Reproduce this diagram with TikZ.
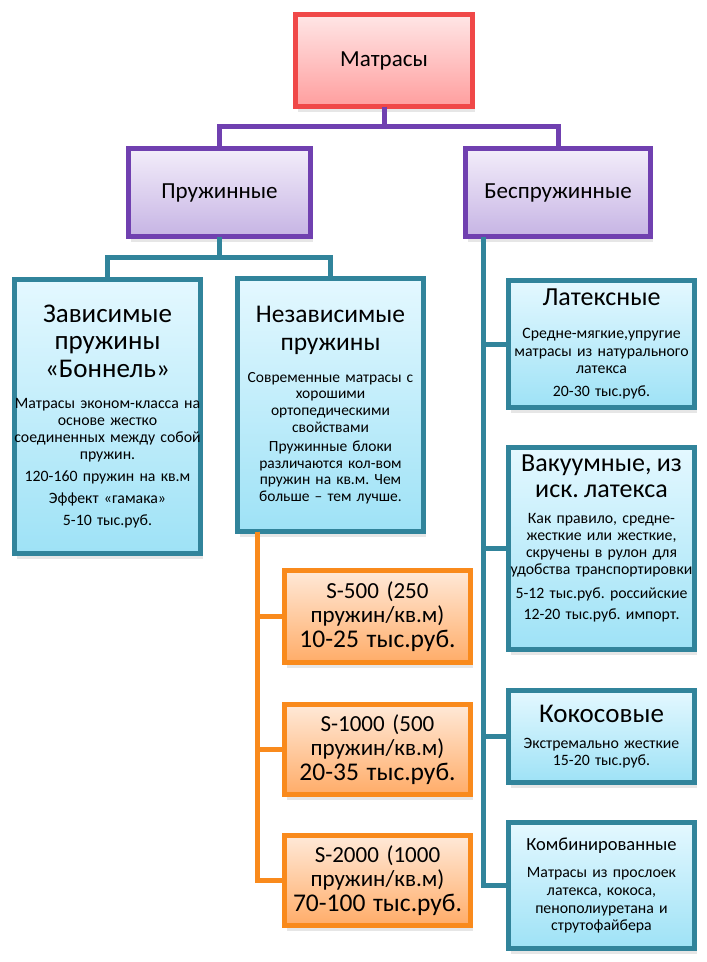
\documentclass[tikz,border=0pt]{standalone}
\usepackage{fontspec}
\setmainfont{Carlito}
\usetikzlibrary{positioning, shadows}
\definecolor{redline}{RGB}{240,72,72}
\definecolor{redtop}{RGB}{255,230,230}
\definecolor{redbot}{RGB}{255,158,158}
\definecolor{purline}{RGB}{112,64,176}
\definecolor{purtop}{RGB}{243,237,250}
\definecolor{purbot}{RGB}{198,180,228}
\definecolor{tealline}{RGB}{49,132,155}
\definecolor{tealtop}{RGB}{228,248,255}
\definecolor{tealbot}{RGB}{158,226,246}
\definecolor{orgline}{RGB}{249,138,28}
\definecolor{orgtop}{RGB}{255,233,216}
\definecolor{orgbot}{RGB}{255,172,104}
\hyphenpenalty=10000
\exhyphenpenalty=10000
\frenchspacing
\newcommand{\pgap}[1][5pt]{\par\vspace{#1}}
% title size, title line spacing, gap below title, text
\newcommand{\boxttl}[4]{{\fontsize{#1}{#2}\selectfont #4\par}\vspace{#3}}

\begin{document}
\begin{tikzpicture}[x=1pt, y=-1pt,
  every node/.style={outer sep=0pt, align=center},
  box/.style={rectangle, line width=5pt, inner ysep=4pt,
              drop shadow={opacity=0.2, shadow xshift=2pt, shadow yshift=-5pt}},
  topbox/.style={box, draw=redline, top color=redtop, bottom color=redbot,
                 minimum width=177pt, minimum height=92pt, font=\fontsize{23}{26}\selectfont},
  grpbox/.style={box, draw=purline, top color=purtop, bottom color=purbot,
                 minimum width=182pt, minimum height=88pt, font=\fontsize{23}{26}\selectfont},
  tealbox/.style={box, draw=tealline, top color=tealtop, bottom color=tealbot,
                  inner xsep=-5pt, minimum width=186pt, text width=196pt,
                  font=\fontsize{15.8}{17}\selectfont},
  orgbox/.style={box, draw=orgline, top color=orgtop, bottom color=orgbot,
                 inner xsep=-5pt, minimum width=186pt, text width=196pt,
                 font=\fontsize{23}{24.5}\selectfont},
  plink/.style={draw=purline, line width=5pt},
  tlink/.style={draw=tealline, line width=5pt},
  olink/.style={draw=orgline, line width=5pt}]

  \useasboundingbox (0,0) rectangle (707,962);

  % top levels
  \node[topbox] (mat) at (384,60.5) {Матрасы};
  \node[grpbox] (pru) at (219.5,192.5) {Пружинные};
  \node[grpbox, minimum width=185pt] (bes) at (558,192.5) {Беспружинные};

  \draw[plink] (mat.south) -- ++(0,19.5) -| (pru.north);
  \draw[plink] (mat.south) -- ++(0,19.5) -| (bes.north);

  % spring mattresses
  \node[tealbox, minimum height=274pt] (zav) at (107.5,416.5) {%
    \boxttl{27}{27.5}{14pt}{Зависимые\\пружины\\«Боннель»}
    Матрасы эконом-класса на\\основе жестко\\соединенных между собой\\пружин.\pgap
    120-160 пружин на кв.м\pgap
    Эффект «гамака»\pgap
    5-10 тыс.руб.};
  \node[tealbox, minimum height=253pt, font=\fontsize{15.5}{16.7}\selectfont] (nez) at (330.5,405) {%
    \boxttl{25.5}{28}{15pt}{Независимые\\пружины}
    Современные матрасы с\\хорошими\\ортопедическими\\свойствами\pgap[2.5pt]
    Пружинные блоки\\различаются кол-вом\\пружин на кв.м. Чем\\больше – тем лучше.};

  \draw[tlink] (pru.south) -- ++(0,20.5) -| (zav.north);
  \draw[tlink] (pru.south) -- ++(0,20.5) -| (nez.north);

  \node[orgbox, minimum height=92pt] (s500) at (377.5,616.5)
    {S-500 (250\\пружин/кв.м)\par{\fontsize{25.5}{25.5}\selectfont 10-25 тыс.руб.}};
  \node[orgbox, minimum height=90pt, below=42pt of s500] (s1000)
    {S-1000 (500\\пружин/кв.м)\par{\fontsize{25.5}{25.5}\selectfont 20-35 тыс.руб.}};
  \node[orgbox, minimum height=90pt, below=41pt of s1000] (s2000)
    {S-2000 (1000\\пружин/кв.м)\par{\fontsize{25.5}{25.5}\selectfont 70-100 тыс.руб.}};

  \coordinate (ot) at ([xshift=20pt]nez.south west);
  \draw[olink] (ot) |- (s500.west);
  \draw[olink] (ot) |- (s1000.west);
  \draw[olink] (ot) |- (s2000.west);

  % springless mattresses
  \node[tealbox, minimum height=127pt, font=\fontsize{15.8}{17.5}\selectfont] (lat) at (601.5,344) {%
    \boxttl{26}{30}{16pt}{Латексные}
    Средне-мягкие,упругие\\матрасы из натурального\\латекса\pgap[5.5pt]
    20-30 тыс.руб.};
  \node[tealbox, minimum height=202pt, below=40pt of lat] (vak) {%
    \boxttl{26}{26}{9pt}{Вакуумные, из\\иск. латекса}
    Как правило, средне-\\жесткие или жесткие,\\скручены в рулон для\\удобства транспортировки\pgap[7pt]
    5-12 тыс.руб. российские\pgap[4pt]
    12-20 тыс.руб. импорт.\par\vspace{6pt}\mbox{}};
  \node[tealbox, minimum height=92pt, below=41pt of vak] (kok) {%
    \boxttl{27}{30}{9pt}{Кокосовые}
    Экстремально жесткие\\
    15-20 тыс.руб.};
  \node[tealbox, minimum height=126pt, below=40pt of kok, font=\fontsize{15.8}{17.7}\selectfont] (kom) {%
    \boxttl{18.5}{22}{10pt}{Комбинированные}
    Матрасы из прослоек\\латекса, кокоса,\\пенополиуретана и\\струтофайбера};

  \coordinate (bt) at ([xshift=17.5pt]bes.south west);
  \draw[tlink] (bt) |- (lat.west);
  \draw[tlink] (bt) |- (vak.west);
  \draw[tlink] (bt) |- (kok.west);
  \draw[tlink] (bt) |- (kom.west);
\end{tikzpicture}
\end{document}
